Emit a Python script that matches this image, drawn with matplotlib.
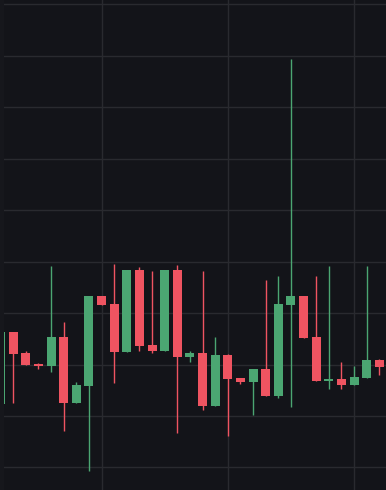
import numpy as np
from matplotlib import pyplot as plt

# candle data (open, high, low, close)
opens = [112.3, 126.3, 122.2, 120.1, 119.7, 125.3, 112.5, 115.8, 133.3, 131.7,
         122.4, 138.35, 123.8, 122.6, 138.35, 121.5, 122.2, 111.9, 121.8, 117.4,
         116.6, 119.1, 113.9, 131.6, 133.3, 125.3, 116.8, 117.2, 116.0, 117.4, 120.9]
highs = [126.3, 126.3, 122.6, 120.3, 139.1, 128.3, 116.6, 133.3, 133.3, 139.5,
         138.35, 138.9, 138.2, 138.35, 139.3, 122.6, 138.2, 125.3, 122.0, 117.4,
         119.1, 136.4, 137.2, 179.3, 133.3, 137.2, 139.1, 120.5, 119.7, 139.1, 121.1]
lows = [112.3, 112.5, 119.9, 119.1, 118.5, 107.1, 112.5, 99.3, 131.6, 116.4,
        122.4, 122.6, 122.2, 122.6, 106.7, 120.5, 111.2, 111.9, 106.1, 116.2,
        110.2, 113.9, 113.5, 111.7, 125.1, 116.8, 115.2, 115.2, 116.0, 117.4, 118.0]
closes = [126.3, 122.0, 119.9, 119.7, 125.3, 112.5, 116.0, 133.3, 131.6, 122.4,
          138.35, 123.6, 122.6, 138.35, 121.5, 122.2, 111.9, 121.8, 117.2, 116.6,
          119.1, 113.9, 131.7, 133.3, 125.1, 116.8, 117.2, 116.0, 117.6, 120.9, 119.5]

up_color = "#4ba672"
down_color = "#ef5461"
bg = "#131419"

x = np.arange(len(opens))
o = np.array(opens)
c = np.array(closes)
colors = [up_color if cc >= oo else down_color for oo, cc in zip(o, c)]

fig = plt.figure(figsize=(3.86, 4.90), dpi=100)
fig.patch.set_facecolor("#16171c")
ax = fig.add_axes([4 / 386, 0, 382 / 386, 1])
ax.set_facecolor(bg)

ax.vlines(x, lows, highs, colors=colors, linewidth=1.0, zorder=2)
bottoms = np.minimum(o, c)
heights = np.maximum(np.abs(c - o), 0.35)
ax.bar(x, heights, bottom=bottoms, width=0.71, color=colors, linewidth=0, zorder=3)

ax.set_xlim(0.27, 30.53)
ax.set_ylim(95.63, 190.78)
ax.set_yticks(np.arange(100, 191, 10))
ax.set_xticks([8, 18, 28])
ax.grid(True, color="#292a2f", linewidth=1.0, zorder=0)
ax.set_axisbelow(True)
ax.tick_params(length=0, labelleft=False, labelbottom=False)
for s in ax.spines.values():
    s.set_visible(False)

fig.savefig("out.png", dpi=100, facecolor=fig.get_facecolor())
